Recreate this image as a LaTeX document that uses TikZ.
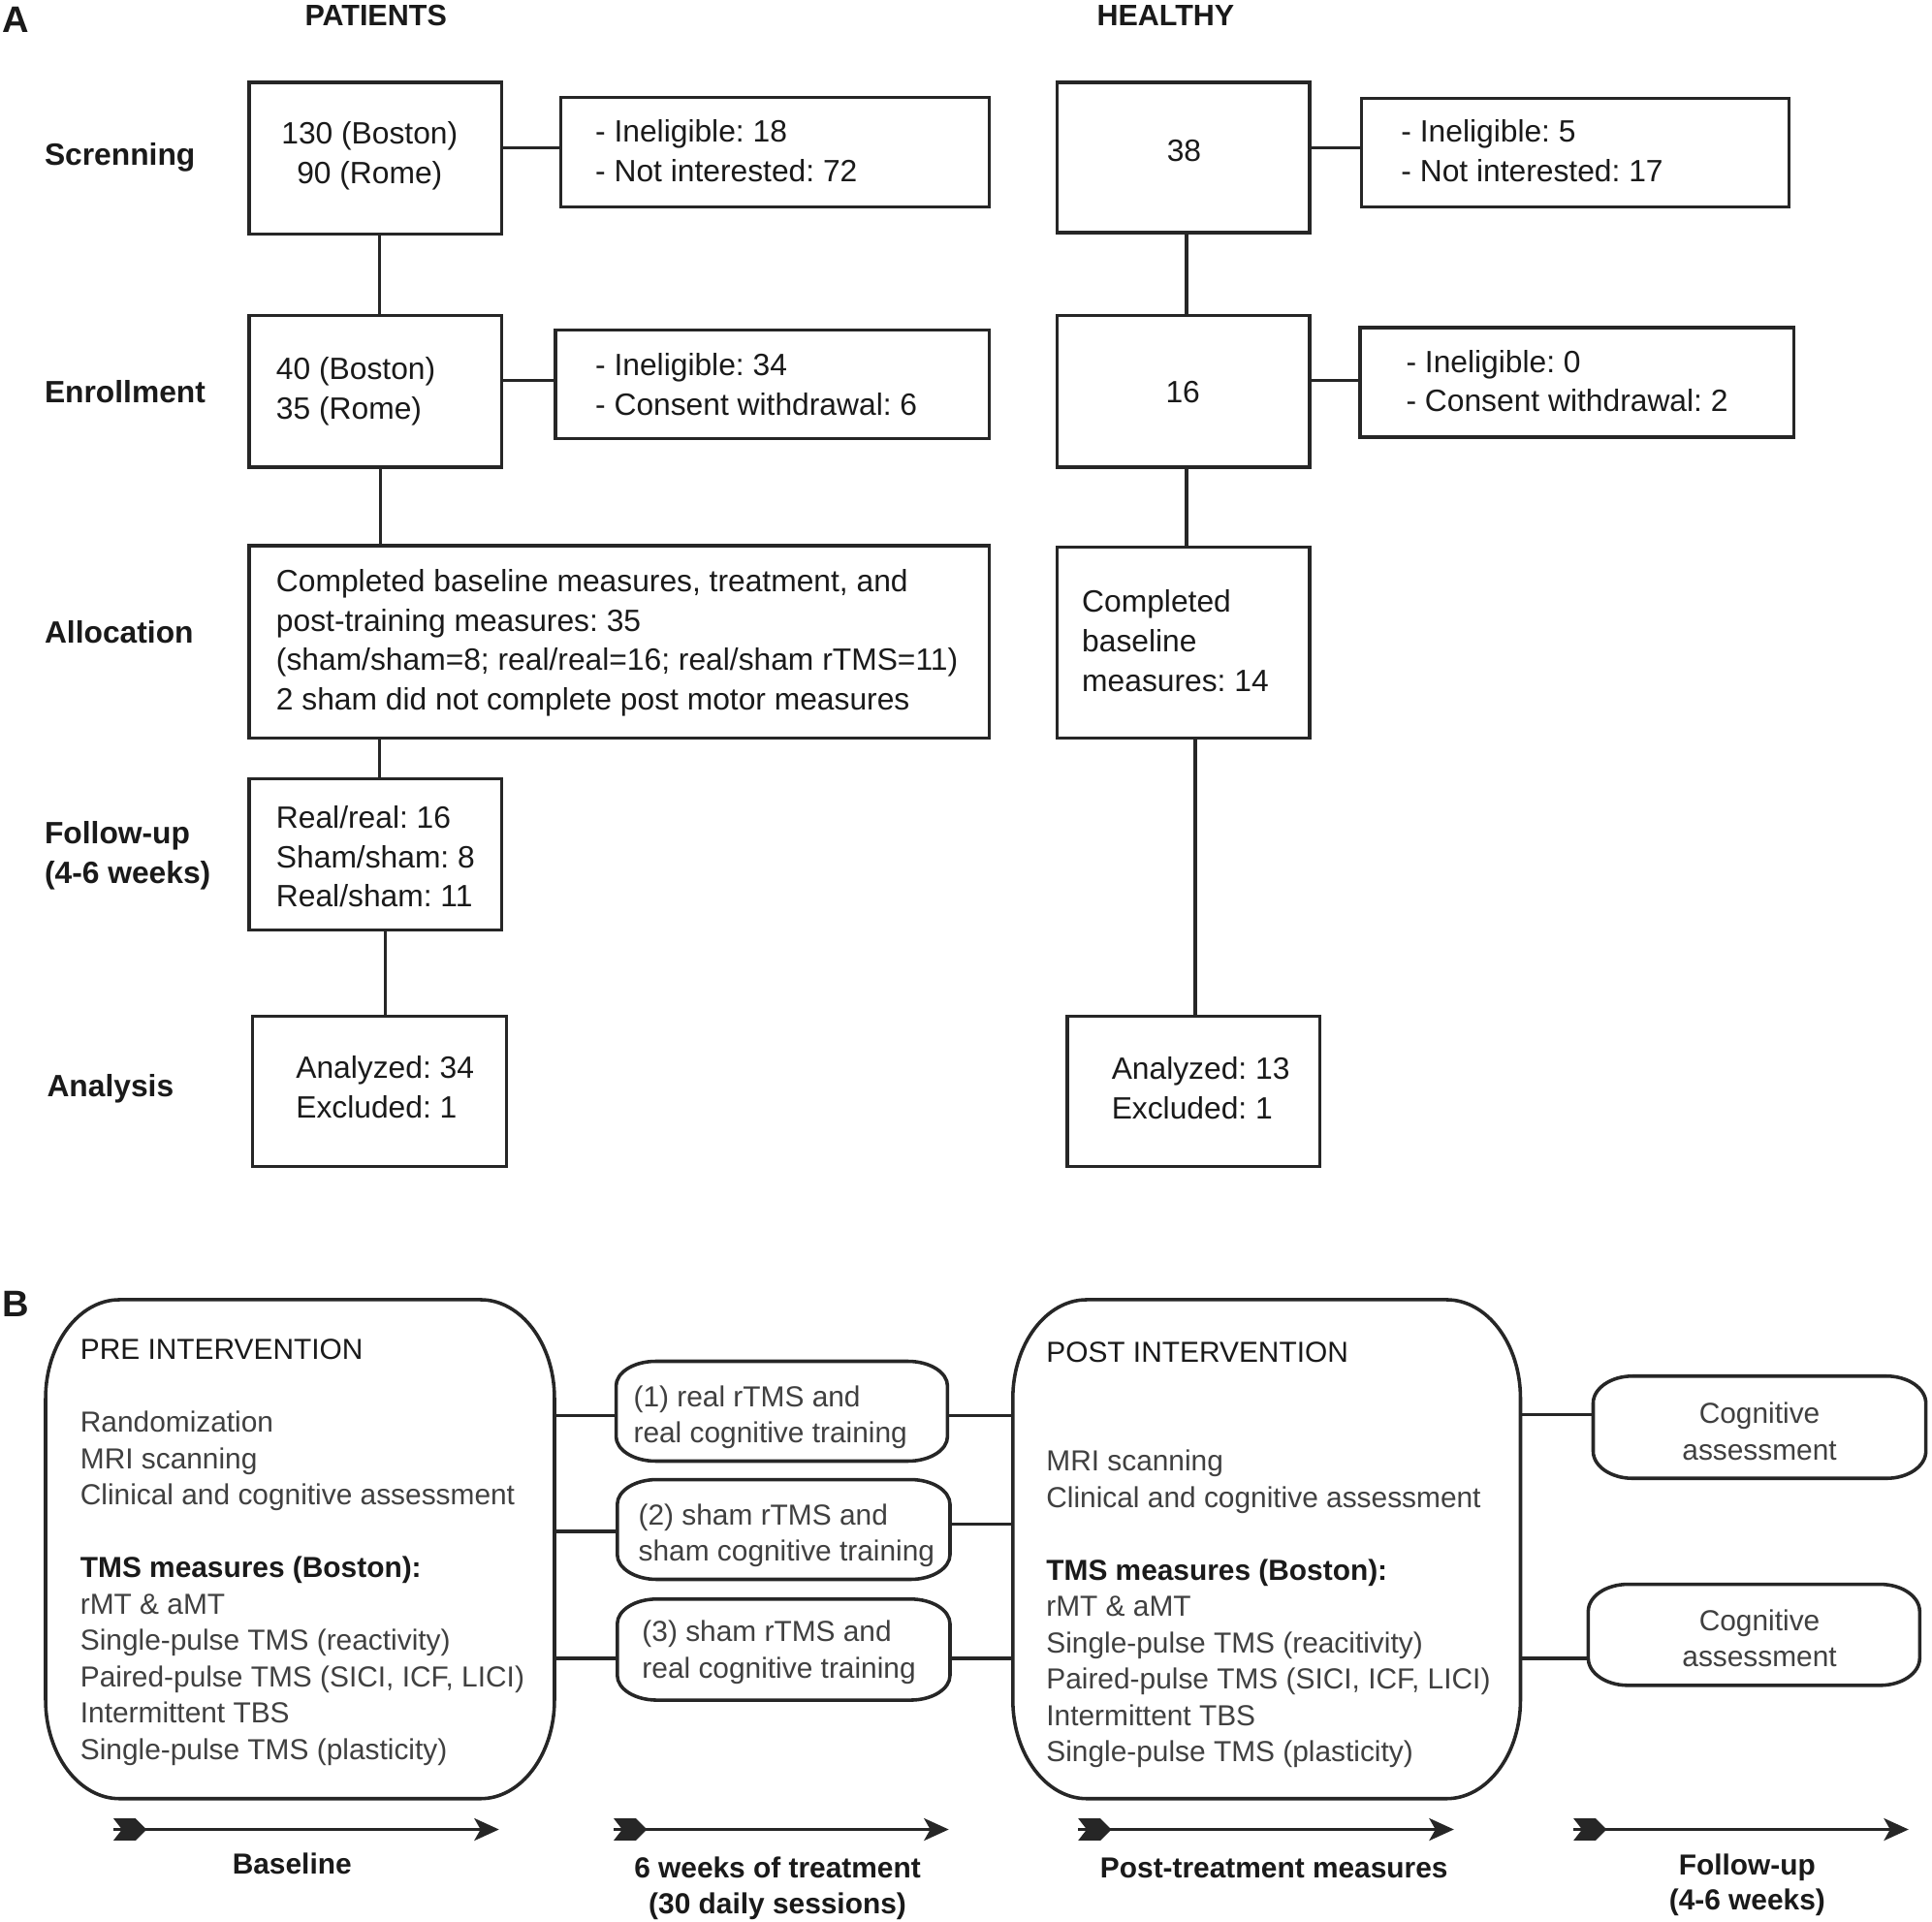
\documentclass[tikz,border=0pt]{standalone}
\usepackage{fontspec}
\setmainfont{Liberation Sans}
\usetikzlibrary{calc,arrows.meta}
\frenchspacing
\definecolor{lc}{HTML}{262626}
\definecolor{ta}{HTML}{1A1A1A}
\definecolor{tb}{HTML}{404040}
\newcommand{\fA}{\fontsize{25}{32}\selectfont}
\newcommand{\fB}{\fontsize{23.5}{29.5}\selectfont}
\newcommand{\fsa}{\rule{0pt}{20pt}}
\newcommand{\fsb}{\rule{0pt}{19pt}}
\newcommand{\myrbox}[3]{%
 \draw[bl] ($(#1.north west)+(#2,0)$) -- ($(#1.north east)+(-#2,0)$)
  .. controls ($(#1.north east)+(-0.45*#2,0)$) and ($(#1.north east)+(0,0.45*#3)$) .. ($(#1.north east)+(0,#3)$)
  -- ($(#1.south east)+(0,-#3)$)
  .. controls ($(#1.south east)+(0,-0.45*#3)$) and ($(#1.south east)+(-0.45*#2,0)$) .. ($(#1.south east)+(-#2,0)$)
  -- ($(#1.south west)+(#2,0)$)
  .. controls ($(#1.south west)+(0.45*#2,0)$) and ($(#1.south west)+(0,-0.45*#3)$) .. ($(#1.south west)+(0,-#3)$)
  -- ($(#1.north west)+(0,#3)$)
  .. controls ($(#1.north west)+(0,0.45*#3)$) and ($(#1.north west)+(0.45*#2,0)$) .. ($(#1.north west)+(#2,0)$) -- cycle;}
\newcommand{\myfletch}[1]{%
 \fill[lc] ($(#1)+(0,-9)$) -- ($(#1)+(18,-9)$) -- ($(#1)+(27,0)$) -- ($(#1)+(18,9)$) -- ($(#1)+(0,9)$) -- ($(#1)+(7,0)$) -- cycle;}
\begin{document}
\frenchspacing
\begin{tikzpicture}[x=1pt,y=-1pt,
 abox/.style={draw=lc, line width=2.8pt, rectangle, inner sep=0pt},
 bshape/.style={rectangle, inner sep=0pt, outer sep=0pt},
 con/.style={draw=lc, line width=2.6pt},
 bl/.style={draw=lc, line width=2.8pt},
 tl/.style={draw=lc, line width=3pt, -{Stealth[length=20pt,width=18pt,inset=5pt]}},
 tA/.style={inner sep=0pt, anchor=north west, align=left, font=\fA, text=ta},
 tAc/.style={inner sep=0pt, anchor=base, font=\fA, text=ta},
 lab/.style={inner sep=0pt, anchor=base west, font=\fA\bfseries, text=ta},
 hdr/.style={inner sep=0pt, anchor=base, font=\fontsize{24}{30}\selectfont\bfseries, text=ta},
 pan/.style={inner sep=0pt, anchor=base west, font=\fontsize{30}{36}\selectfont\bfseries, text=ta},
 tB/.style={inner sep=0pt, anchor=north west, align=left, font=\fB, text=tb},
 tBc/.style={inner sep=0pt, anchor=north, align=center, font=\fB, text=tb},
 tl1/.style={inner sep=0pt, anchor=base, font=\fB\bfseries, text=ta},
 tl2/.style={inner sep=0pt, anchor=north, align=center, font=\fontsize{23.5}{29}\selectfont\bfseries, text=ta}
]
\fill[white] (0,0) rectangle (1568,1560);
\useasboundingbox (0,0) rectangle (1568,1560);

% ---------- Panel A ----------
\node[pan] (lA) at (2,26) {A};
\node[hdr] (hP) at (305,21) {PATIENTS};
\node[hdr] (hH) at (946,21) {HEALTHY};

\node[lab] (r1) at (36,134) {Screnning};
\node[lab] (r2) at (36,327) {Enrollment};
\node[lab] (r3) at (36,522) {Allocation};
\node[lab, anchor=north west, align=left] (r4) at (36,665) {\fsa Follow-up\\(4-6 weeks)};
\node[lab] (r5) at (38,890) {Analysis};

% patients boxes
\node[abox, minimum width=205pt, minimum height=123pt] (ps) at (304.5,128.5) {};
\node[abox, minimum width=348pt, minimum height=89pt] (pe1) at (629,123.5) {};
\node[abox, minimum width=205pt, minimum height=123pt] (pn) at (304.5,317.5) {};
\node[abox, minimum width=352pt, minimum height=88pt] (pe2) at (627,312) {};
\node[abox, minimum width=601pt, minimum height=156pt] (pa) at (502.5,521) {};
\node[abox, minimum width=205pt, minimum height=123pt] (pf) at (304.5,693.5) {};
\node[abox, minimum width=206pt, minimum height=122pt] (pz) at (308,886) {};

\node[tA, anchor=north, align=center] (pst) at (300,97) {\fsa 130 (Boston)\\90 (Rome)};
\node[tA] (pe1t) at (483,95) {\fsa - Ineligible: 18\\- Not interested: 72};
\node[tA] (pnt) at (224,288) {\fsa 40 (Boston)\\35 (Rome)};
\node[tA] (pe2t) at (483,285) {\fsa - Ineligible: 34\\- Consent withdrawal: 6};
\node[tA] (pat) at (224,460) {\fsa Completed baseline measures, treatment, and\\post-training measures: 35\\(sham/sham=8; real/real=16; real/sham rTMS=11)\\2 sham did not complete post motor measures};
\node[tA] (pft) at (224,652) {\fsa Real/real: 16\\Sham/sham: 8\\Real/sham: 11};
\node[tA] (pzt) at (240,855) {\fsa Analyzed: 34\\Excluded: 1};

% healthy boxes
\node[abox, minimum width=205pt, minimum height=122pt] (hs) at (960.5,128) {};
\node[abox, minimum width=347pt, minimum height=88pt] (he1) at (1278.5,124) {};
\node[abox, minimum width=205pt, minimum height=123pt] (hn) at (960.5,317.5) {};
\node[abox, minimum width=352pt, minimum height=89pt] (he2) at (1280,310.5) {};
\node[abox, minimum width=205pt, minimum height=155pt] (ha) at (960.5,521.5) {};
\node[abox, minimum width=205pt, minimum height=122pt] (hz) at (968.5,886) {};

\node[tAc] (hst) at (961,131) {38};
\node[tA] (he1t) at (1137,95) {\fsa - Ineligible: 5\\- Not interested: 17};
\node[tAc] (hnt) at (960,327) {16};
\node[tA] (he2t) at (1141,282) {\fsa - Ineligible: 0\\- Consent withdrawal: 2};
\node[tA] (hat) at (878,477) {\fsa Completed\\baseline\\measures: 14};
\node[tA] (hzt) at (902,856) {\fsa Analyzed: 13\\Excluded: 1};

% patients connectors
\draw[con] ($(ps.east |- pe1.west)+(0,-3.5)$) -- ($(pe1.west)+(0,-3.5)$);
\draw[con] ($(pn.east |- pe2.west)+(0,-3)$) -- ($(pe2.west)+(0,-3)$);
\draw[con] ($(ps.south)+(3.5,0)$) -- ($(pn.north)+(3.5,0)$);
\draw[con] ($(pn.south)+(4.5,0)$) -- ($(pn.south |- pa.north)+(4.5,0)$);
\draw[con] ($(pa.south -| pf.north)+(3.5,0)$) -- ($(pf.north)+(3.5,0)$);
\draw[con] ($(pf.south)+(8.5,0)$) -- ($(pf.south |- pz.north)+(8.5,0)$);
% healthy connectors
\draw[con] ($(hs.east |- he1.west)+(0,-4)$) -- ($(he1.west)+(0,-4)$);
\draw[con] ($(hn.east |- he2.west)+(0,-1.5)$) -- ($(he2.west)+(0,-1.5)$);
\draw[con] ($(hs.south)+(2.5,0)$) -- ($(hn.north)+(2.5,0)$);
\draw[con] ($(hn.south)+(2.5,0)$) -- ($(ha.north)+(2.5,0)$);
\draw[con] ($(ha.south)+(9.5,0)$) -- ($(ha.south |- hz.north)+(9.5,0)$);

% ---------- Panel B ----------
\node[pan] (lB) at (2,1069) {B};

\node[bshape, minimum width=413pt, minimum height=405pt] (pre) at (243.5,1257.5) {};
\node[bshape, minimum width=412pt, minimum height=405pt] (post) at (1028,1257.5) {};
\node[bshape, minimum width=269pt, minimum height=81pt] (t1) at (634.5,1145.5) {};
\node[bshape, minimum width=270pt, minimum height=81pt] (t2) at (636,1241.5) {};
\node[bshape, minimum width=270pt, minimum height=82pt] (t3) at (636,1339) {};
\node[bshape, minimum width=270pt, minimum height=83pt] (c1) at (1428,1158.5) {};
\node[bshape, minimum width=269pt, minimum height=82pt] (c2) at (1423.5,1327) {};

\myrbox{pre}{60}{80}
\myrbox{post}{60}{80}
\myrbox{t1}{32}{20}
\myrbox{t2}{32}{20}
\myrbox{t3}{32}{20}
\myrbox{c1}{32}{22}
\myrbox{c2}{32}{22}

\node[tB] (pret) at (65,1084.4) {\fsb\textcolor{ta}{PRE INTERVENTION}\\~\\Randomization\\MRI scanning\\Clinical and cognitive assessment\\~\\\textcolor{ta}{\bfseries TMS measures (Boston):}\\rMT \& aMT\\Single-pulse TMS (reactivity)\\Paired-pulse TMS (SICI, ICF, LICI)\\Intermittent TBS\\Single-pulse TMS (plasticity)};
\node[tB] (postt) at (849,1086.4) {\fsb\textcolor{ta}{POST INTERVENTION}\\~\\~\\MRI scanning\\Clinical and cognitive assessment\\~\\\textcolor{ta}{\bfseries TMS measures (Boston):}\\rMT \& aMT\\Single-pulse TMS (reacitivity)\\Paired-pulse TMS (SICI, ICF, LICI)\\Intermittent TBS\\Single-pulse TMS (plasticity)};
\node[tB] (t1t) at (514,1122.4) {\fsb(1) real rTMS and\\real cognitive training};
\node[tB] (t2t) at (518,1218.4) {\fsb(2) sham rTMS and\\sham cognitive training};
\node[tB] (t3t) at (521,1313.4) {\fsb(3) sham rTMS and\\real cognitive training};
\node[tBc] (c1t) at (1428,1136.4) {\fsb Cognitive\\assessment};
\node[tBc] (c2t) at (1428,1304.4) {\fsb Cognitive\\assessment};

\draw[con] ($(pre.east |- t1.west)+(0,3.5)$) -- ($(t1.west)+(0,3.5)$);
\draw[con] ($(t1.east)+(0,3.5)$) -- ($(post.west |- t1.east)+(0,3.5)$);
\draw[con] ($(pre.east |- t2.west)+(0,1.5)$) -- ($(t2.west)+(0,1.5)$);
\draw[con] ($(t2.east)+(0,-4.5)$) -- ($(post.west |- t2.east)+(0,-4.5)$);
\draw[con] ($(pre.east |- t3.west)+(0,7)$) -- ($(t3.west)+(0,7)$);
\draw[con] ($(t3.east)+(0,7)$) -- ($(post.west |- t3.east)+(0,7)$);
\draw[con] ($(post.east |- c1.west)+(0,-10.5)$) -- ($(c1.west)+(0,-10.5)$);
\draw[con] ($(post.east |- c2.west)+(0,19)$) -- ($(c2.west)+(0,19)$);

% timeline
\coordinate (s1) at (92,1485);  \coordinate (e1) at (405,1485);
\coordinate (s2) at (498,1485); \coordinate (e2) at (770,1485);
\coordinate (s3) at (875,1485); \coordinate (e3) at (1180,1485);
\coordinate (s4) at (1277,1485); \coordinate (e4) at (1549,1485);
\draw[tl] (s1) -- (e1); \myfletch{s1}
\draw[tl] (s2) -- (e2); \myfletch{s2}
\draw[tl] (s3) -- (e3); \myfletch{s3}
\draw[tl] (s4) -- (e4); \myfletch{s4}

\node[tl1] (l1) at (237,1521.4) {Baseline};
\node[tl2] (l2) at (631,1505.4) {\fsb 6 weeks of treatment\\(30 daily sessions)};
\node[tl1] (l3) at (1034,1524.4) {Post-treatment measures};
\node[tl2] (l4) at (1418,1502.4) {\fsb Follow-up\\(4-6 weeks)};
\end{tikzpicture}
\end{document}
